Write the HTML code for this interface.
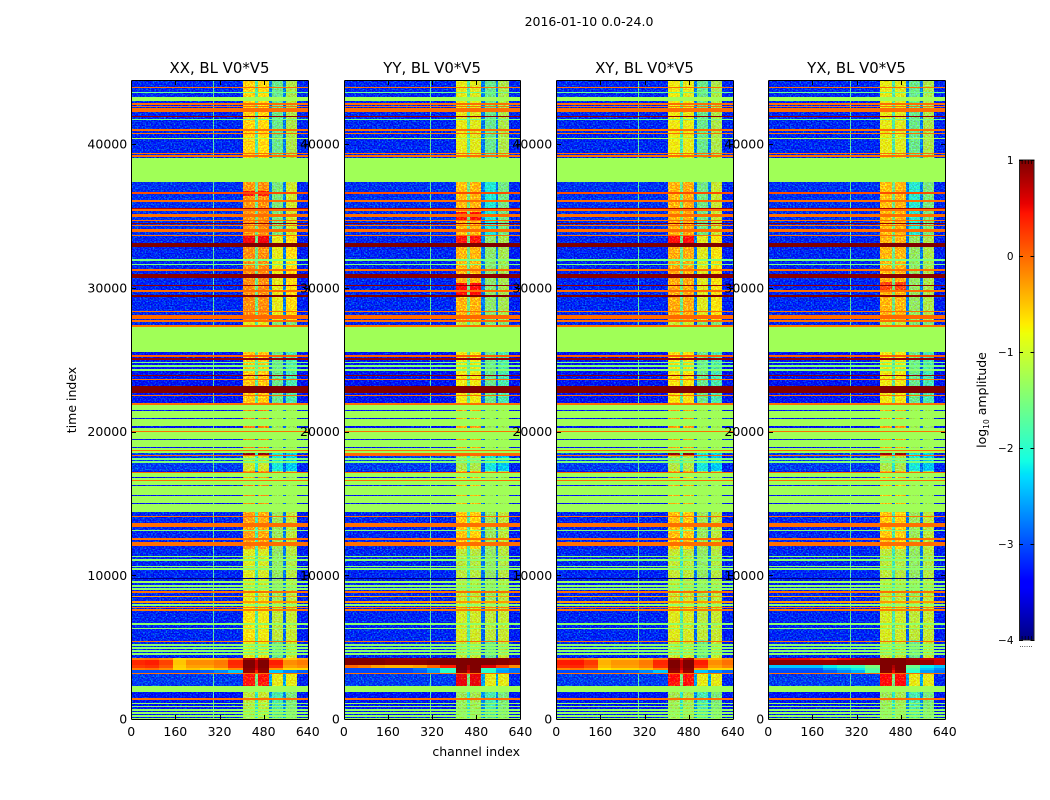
<!DOCTYPE html>
<html lang="en">
<head>
<meta charset="utf-8">
<title>2016-01-10 0.0-24.0</title>
<style>
html,body{margin:0;padding:0;background:#fff;width:1050px;height:800px;overflow:hidden}
svg{display:block}
text{font-family:"DejaVu Sans","Liberation Sans",sans-serif;fill:#000}
</style>
</head>
<body>
<svg id="fig" xmlns="http://www.w3.org/2000/svg" width="1050" height="800" viewBox="0 0 1050 800">
<defs>
<filter id="speckle" x="0" y="0" width="100%" height="100%" color-interpolation-filters="sRGB">
<feTurbulence type="fractalNoise" baseFrequency="0.62 0.75" numOctaves="1" seed="7" result="n"/>
<feColorMatrix in="n" type="matrix" values="0 0 0 0 0.2  1.6 0 0 0 -0.68  0 1.3 0 0 -0.45  0 0 0 0 1" result="m"/>
<feComposite in="SourceGraphic" in2="m" operator="arithmetic" k1="0" k2="1" k3="1" k4="-0.2"/>
</filter>
</defs>
<text x="589" y="26" font-size="12.5" text-anchor="middle">2016-01-10 0.0-24.0</text>
<text x="520" y="756" font-size="12.5" text-anchor="end">channel index</text>
<text transform="translate(76,400) rotate(-90)" font-size="12.5" text-anchor="middle">time index</text>
<text transform="translate(986,400) rotate(-90)" font-size="12.5" text-anchor="middle">log<tspan font-size="7.5" dy="3">10</tspan><tspan dy="-3"> amplitude</tspan></text>
<g id="panels"></g>
<g id="colorbar"></g>
</svg>
<script>
// ---- chart data (log10 amplitude, channel index, time index) ----
const panelTitles = ["XX, BL V0*V5", "YY, BL V0*V5", "XY, BL V0*V5", "YX, BL V0*V5"];
const xTicks = [0, 160, 320, 480, 640];
const yTicks = [0, 10000, 20000, 30000, 40000];
const colorbarTicks = [1, 0, -1, -2, -3, -4];

const channelEdges = [0, 405, 448, 459, 499, 510, 550, 560, 600, 640];
const segmentLow  = [39030, 33670, 27760, 27270, 21845, 18505, 17255, 14400, 11800, 8280, 5500, 4245, 2295, 0];
const segmentHigh = [44386, 37360, 33670, 27760, 25530, 21845, 18505, 17255, 14400, 11800, 8280, 5500, 3200, 1880];
const segmentLevels = [
  [-3.1, -.65, -1.8, -.7, -2.7, -1.6, -2.7, -1.2, -3.1],
  [-3.05, -.35, -1.6, -.3, -2.7, -1.5, -2.7, -1, -3.1],
  [-3.1, -.3, -1.6, -.3, -2.7, -.85, -2.7, -.7, -3.15],
  [-3.1, -.9, -1.8, -.9, -3, -1.5, -3, -1.5, -3.1],
  [-3.2, -.6, -1.7, -.6, -2.8, -1.6, -2.8, -1.8, -3.2],
  [-3.2, -.2, -2.8, -.2, -2.8, -1.3, -2.8, -1.3, -3.2],
  [-3.0, -1.0, -2.0, -1.0, -2.8, -2.1, -2.8, -2.3, -3.1],
  [-3.2, -.3, -2.8, -.3, -2.8, -1.3, -2.8, -1.3, -3.2],
  [-3.1, -.4, -1.8, -.45, -2.7, -1.3, -2.7, -1.1, -3.15],
  [-3.1, -.9, -1.9, -.95, -2.7, -1.35, -2.7, -1.15, -3.15],
  [-3.1, -.75, -1.8, -.8, -2.8, -1.1, -2.8, -1.05, -3.15],
  [-3.1, -.85, -1.9, -.85, -2.8, -1.6, -2.8, -1.05, -3.15],
  [-3, .1, -1.5, .1, -2.5, -.85, -2.5, -.85, -3.1],
  [-3.2, -1.1, -2, -1.05, -2.6, -1.8, -2.6, -1.5, -3.2]
];
const stripShift = [0, -0.2, -0.15, -0.2];
const outerShift = [0, -0.55, -0.05, -0.5];
const outerShiftSegments = [1, 2];
const rfiChannel = [300, 316, 300, 300];
const rfiLevel = -1.7;

const flaggedLevel = -1.28;
const flaggedBlocks = [
  [42990, 43250], [37380, 39010], [25550, 27290], [21480, 21845], [20940, 21425],
  [20385, 20870], [20035, 20245], [19480, 19965], [18925, 19410], [18505, 18855],
  [16835, 17115], [16280, 16765], [15585, 16210], [15030, 15515], [14420, 14960],
  [1880, 2295], [0, 50]
];
const lineBands = [
  [43880,43990,-.03],[43555,43645,-1.6],[42715,42835,-.03],[42555,42665,-.03],[42210,42485,-.03],
  [41860,41945,.9],[41680,41765,-1.6],[40935,41020,-.03],[40705,40790,-.03],[40355,40445,-1.2],
  [39315,39400,-.03],[39125,39210,-.03],[36525,36630,.15],[35995,36080,-.03],[35490,35570,.8],
  [35370,35455,-.03],[34945,35100,-.03],[34625,34710,-.03],[34440,34530,.9],[34275,34360,-.03],
  [33860,34090,-.03],[33610,33695,-.03],[32860,33135,1],[31890,31975,-1.5],[31590,31680,-1.5],
  [31170,31285,-.03],[30660,30960,.95],[30100,30190,.9],[29730,29820,-.03],[29360,29500,1],
  [28295,28380,-.03],[27810,28085,0],[27645,27730,-.03],[27290,27410,-.03],[25210,25295,.05],
  [25005,25085,.9],[24745,24830,-1.5],[24515,24600,-1.5],[24240,24325,-1.4],[23870,23955,.9],
  [23590,23675,-.03],[22660,23165,1],[22475,22560,-.03],[21870,21960,-.03],[19975,20055,-.03],
  [18620,18710,-.03],[18275,18360,-.03],[18045,18130,-1.5],[17835,17920,-1.5],[17120,17205,-.03],
  [16535,16620,-.03],[14030,14115,-.03],[13575,13660,-.03],[13455,13540,-.03],[13340,13420,-.03],
  [13060,13145,-1.4],[12430,12570,-.03],[12015,12335,-.03],[11250,11335,-1.4],[11020,11105,-1.4],
  [10555,10640,-1.4],[10395,10480,-1.4],[9750,9830,-4],[9460,9600,-1.28],[9210,9295,-1.4],
  [9000,9085,-1.4],[8765,8905,-.03],[8465,8580,-.3],[8090,8210,-.25],[7890,7975,-1.4],
  [7700,7785,-.1],[7540,7625,-.1],[6565,6650,-1.4],[6270,6355,-1.4],[5335,5420,-.03],
  [5105,5190,-1.4],[4895,4980,-1.4],[4690,4775,-1.4],[4480,4565,-1.4],[3140,3220,-.03],
  [1350,1435,-.03],[1050,1135,-1.35],[815,900,-1.35],[585,670,-1.35],[375,460,-1.35],[165,250,-1.35]
];
const panelRows = [[], [[18290, 18520, 0]], [], []];
const stripPatches = [
  [[33150,33620,.5],[36400,36700,.35],[18380,18500,.95],[2295,3180,.35]],
  [[34715,35270,.4],[33115,33670,.35],[29500,30330,.45],[18380,18500,.3],[2295,3180,.55]],
  [[33150,33620,.4],[18380,18500,.95],[2295,3180,.4]],
  [[29700,30400,.1],[18380,18500,.9],[2295,3180,.45]]
];

const hotEdges = [0,50,100,150,200,250,300,350,405,448,459,499,550,600,640];
const hotLow  = [4070, 3755, 3548, 3410, 3200];
const hotHigh = [4245, 4070, 3755, 3548, 3410];
const hotXX = [
  [-.1,-.05,-.2,-.6,-.5,-.5,-.4,-.1,.8,.4,.8,-.1,-.5,-.3],
  [.35,.4,.2,-.5,-.2,-.2,-.1,.35,1,.7,1,.4,-.2,-.1],
  [.25,.3,.1,-.55,-.3,-.3,-.15,.3,1,.7,1,.3,-.3,-.2],
  [-.1,-.05,-.2,-.6,-.5,-.6,-.5,-.2,.95,.6,.95,-.3,-.6,-.6],
  [-3,-3,-3,-3,-3,-2.9,-2.7,-2.4,.9,.4,.9,-2.4,-2.7,-2.9]
];
const hotYY = [
  [.95,.95,.95,.9,.85,.85,.9,.95,1,1,1,.95,.95,.95],
  [1,1,1,.95,.95,.95,1,1,1,1,1,1,.95,.9],
  [0,-.1,-.3,-.4,-.4,-.3,0,.4,1,.8,1,.6,.2,-.2],
  [-3,-3,-3,-3,-3,-2.8,-2.5,-1.9,1,.8,1,-1.9,-2.5,-2.8],
  [-3,-3,-3,-3,-3,-2.9,-2.6,-2,.95,.6,.95,-2,-2.6,-2.8]
];
const hotXY = [
  [-.1,0,-.2,-.5,-.5,-.5,-.4,-.1,.8,.4,.8,-.1,-.4,-.2],
  [.4,.45,.25,-.4,-.25,-.25,-.1,.35,1,.7,1,.4,-.2,-.05],
  [.3,.35,.15,-.45,-.3,-.3,-.15,.3,1,.7,1,.3,-.3,-.15],
  [-.2,-.1,-.2,-.7,-.6,-.6,-.5,-.2,.95,.6,.95,-.3,-.6,-.6],
  [-3,-3,-3,-3,-3,-2.9,-2.7,-2.4,.9,.4,.9,-2.4,-2.7,-2.9]
];
const hotYX = [
  [.6,.6,.5,.3,.2,.5,.7,.85,1,1,1,.85,.7,.6],
  [.95,.95,.95,.9,.9,.95,.95,.95,1,1,1,.95,.9,.7],
  [-2.4,-2.4,-2.4,-2.4,-2.2,-2,-1.9,-1.5,1,.8,1,-1.6,-2.2,-2.4],
  [-2.9,-2.9,-2.9,-2.9,-2.6,-2.4,-2.2,-1.7,1,.7,1,-1.8,-2.4,-2.7],
  [-3,-3,-3,-3,-2.9,-2.7,-2.5,-1.8,.95,.5,.95,-2,-2.6,-2.8]
];
const hotPanels = [hotXX, hotYY, hotXY, hotYX];

// ---- axis functions ----
const panelLeft = [131.2, 343.8, 556.2, 768.2];
const panelWidth = 176.6;
const plotTop = 81, plotBottom = 719, timeMax = 44386, channelMax = 640;
function xScale(p, ch) { return panelLeft[p] + ch / channelMax * panelWidth; }
function yScale(t) { return plotBottom - t / timeMax * (plotBottom - plotTop); }

function interp(stops, v) {
  for (let i = 1; i < stops.length; i++) {
    if (v <= stops[i][0]) {
      const a = stops[i - 1], b = stops[i];
      return a[1] + (b[1] - a[1]) * (v - a[0]) / (b[0] - a[0]);
    }
  }
  return stops[stops.length - 1][1];
}
const jetR = [[0,0],[.35,0],[.66,1],[.89,1],[1,.5]];
const jetG = [[0,0],[.125,0],[.375,1],[.64,1],[.91,0],[1,0]];
const jetB = [[0,.5],[.11,1],[.34,1],[.65,0],[1,0]];
function colorOf(logValue) {
  const t = Math.max(0, Math.min(1, (logValue + 4) / 5));
  return 'rgb(' + Math.round(255 * interp(jetR, t)) + ',' + Math.round(255 * interp(jetG, t)) + ',' + Math.round(255 * interp(jetB, t)) + ')';
}

const NS = 'http://www.w3.org/2000/svg';
function cell(parent, p, chA, chB, tLow, tHigh, value) {
  const x0 = Math.round(xScale(p, chA)), x1 = Math.max(x0 + 1, Math.round(xScale(p, chB)));
  const y0 = Math.round(yScale(tHigh)), y1 = Math.max(y0 + 1, Math.round(yScale(tLow)));
  const el = document.createElementNS(NS, 'rect');
  
  
  el.setAttribute('x', x0);
  el.setAttribute('y', y0);
  el.setAttribute('width', x1 - x0);
  el.setAttribute('height', y1 - y0);
  el.setAttribute('fill', colorOf(value));
  el.setAttribute('shape-rendering', 'crispEdges');
  parent.appendChild(el);
}
function seg(parent, name, x1, y1, x2, y2, w) {
  const el = document.createElementNS(NS, 'line');
  
  
  el.setAttribute('x1', x1);
  el.setAttribute('y1', y1);
  el.setAttribute('x2', x2);
  el.setAttribute('y2', y2);
  el.setAttribute('stroke', '#000');
  el.setAttribute('stroke-width', w);
  parent.appendChild(el);
}
function label(parent, name, x, y, str, size, anchor) {
  const el = document.createElementNS(NS, 'text');
  
  
  el.setAttribute('x', x);
  el.setAttribute('y', y);
  el.setAttribute('font-size', size);
  el.setAttribute('text-anchor', anchor);
  el.textContent = str;
  parent.appendChild(el);
}
function fmtTick(v) { return String(v).replace('-', '\u2212'); }

// ---- panels ----
const panelsRoot = document.getElementById('panels');
const labelLayer = document.createElementNS(NS, 'g');



panelTitles.forEach(function (title, p) {
  const g = document.createElementNS(NS, 'g');
  
  
  panelsRoot.appendChild(g);

  const base = document.createElementNS(NS, 'g');
  
  
  base.setAttribute('filter', 'url(#speckle)');
  g.appendChild(base);

  segmentLevels.forEach(function (levels, s) {
    levels.forEach(function (lv, c) {
      let value = lv;
      if (c === 1 || c === 3) value = lv + stripShift[p];
      if ((c === 5 || c === 7) && outerShiftSegments.includes(s)) value = lv + outerShift[p];
      cell(base, p, channelEdges[c], channelEdges[c + 1], segmentLow[s], segmentHigh[s], value);
    });
  });
  cell(base, p, rfiChannel[p] - 1.8, rfiChannel[p] + 1.8, 0, timeMax, rfiLevel);
  stripPatches[p].forEach(function (b) {
    cell(base, p, channelEdges[1], channelEdges[2], b[0], b[1], b[2]);
    cell(base, p, channelEdges[3], channelEdges[4], b[0], b[1], b[2]);
  });

  const top = document.createElementNS(NS, 'g');
  
  
  g.appendChild(top);

  flaggedBlocks.forEach(function (b) {
    cell(top, p, 0, channelMax, b[0], b[1], flaggedLevel);
  });
  hotPanels[p].forEach(function (row, r) {
    row.forEach(function (v, c) {
      cell(top, p, hotEdges[c], hotEdges[c + 1], hotLow[r], hotHigh[r], v);
    });
  });
  lineBands.forEach(function (b) {
    cell(top, p, 0, channelMax, b[0], b[1], b[2]);
  });
  panelRows[p].forEach(function (b) {
    cell(top, p, 0, channelMax, b[0], b[1], b[2]);
  });

  const L = Math.round(xScale(p, 0)) + 0.5;
  const R = Math.round(xScale(p, channelMax)) + 0.5;
  const T = plotTop - 0.5, B = plotBottom + 0.5;
  seg(g, 'axis-frame-left', L, T, L, B, 1);
  seg(g, 'axis-frame-right', R, T, R, B, 1);
  seg(g, 'axis-frame-top', L, T, R, T, 1);
  seg(g, 'axis-frame-bottom', L, B, R, B, 1);

  xTicks.forEach(function (v) {
    const x = Math.round(xScale(p, v)) + 0.5;
    seg(g, 'x-tick', x, B, x, B - 4.5, 1);
    seg(g, 'x-tick-top', x, T, x, T + 4.5, 1);
    label(labelLayer, 'x-tick-label', xScale(p, v), 736, String(v), 12.5, 'middle');
  });
  yTicks.forEach(function (v) {
    const y = Math.round(yScale(v)) + 0.5;
    seg(g, 'y-tick', L, y, L + 4.5, y, 1);
    seg(g, 'y-tick-right', R, y, R - 4.5, y, 1);
    label(labelLayer, 'y-tick-label', xScale(p, 0) - 4, yScale(v) + 4.5, String(v), 12.5, 'end');
  });
  label(g, 'panel-title', xScale(p, 0) + panelWidth / 2, 73, title, 14.9, 'middle');
});
panelsRoot.appendChild(labelLayer);

// ---- colorbar ----
const cbX = 1019, cbW = 15.5, cbTop = 160, cbBottom = 640;
const cbMax = 1, cbMin = -4;
function cbScale(v) { return cbBottom - (v - cbMin) / (cbMax - cbMin) * (cbBottom - cbTop); }
const cbRoot = document.getElementById('colorbar');
const cbSteps = 240;
for (let i = 0; i < cbSteps; i++) {
  const vLow = cbMin + (cbMax - cbMin) * i / cbSteps;
  const vHigh = cbMin + (cbMax - cbMin) * (i + 1) / cbSteps;
  const el = document.createElementNS(NS, 'rect');
  
  
  el.setAttribute('x', cbX);
  el.setAttribute('y', cbScale(vHigh));
  el.setAttribute('width', cbW);
  el.setAttribute('height', cbScale(vLow) - cbScale(vHigh) + 0.5);
  el.setAttribute('fill', colorOf((vLow + vHigh) / 2));
  cbRoot.appendChild(el);
}
const frame = document.createElementNS(NS, 'rect');


frame.setAttribute('x', cbX + 0.5);
frame.setAttribute('y', cbTop);
frame.setAttribute('width', cbW - 1);
frame.setAttribute('height', cbBottom - cbTop);
frame.setAttribute('fill', 'none');
frame.setAttribute('stroke', '#222');
frame.setAttribute('stroke-width', 1);
cbRoot.appendChild(frame);
colorbarTicks.forEach(function (v) {
  const y = Math.round(cbScale(v)) + 0.5;
  seg(cbRoot, 'colorbar-tick', cbX, y, cbX + 4, y, 1);
  seg(cbRoot, 'colorbar-tick-right', cbX + cbW - 4, y, cbX + cbW, y, 1);
  label(cbRoot, 'colorbar-tick-label', 1013.5, cbScale(v) + 4, fmtTick(v), 10.5, 'end');
});
[0.2, 0.4, 0.6, 0.8].forEach(function (f) {
  const x = cbX + f * cbW;
  seg(cbRoot, 'colorbar-top-tick', x, cbTop, x, cbTop + 4, 0.7);
  seg(cbRoot, 'colorbar-bottom-tick', x, cbBottom - 4, x, cbBottom, 0.7);
});
label(cbRoot, 'colorbar-offset-dots', 1026, 647, '......', 7, 'middle');
</script>
</body>
</html>
